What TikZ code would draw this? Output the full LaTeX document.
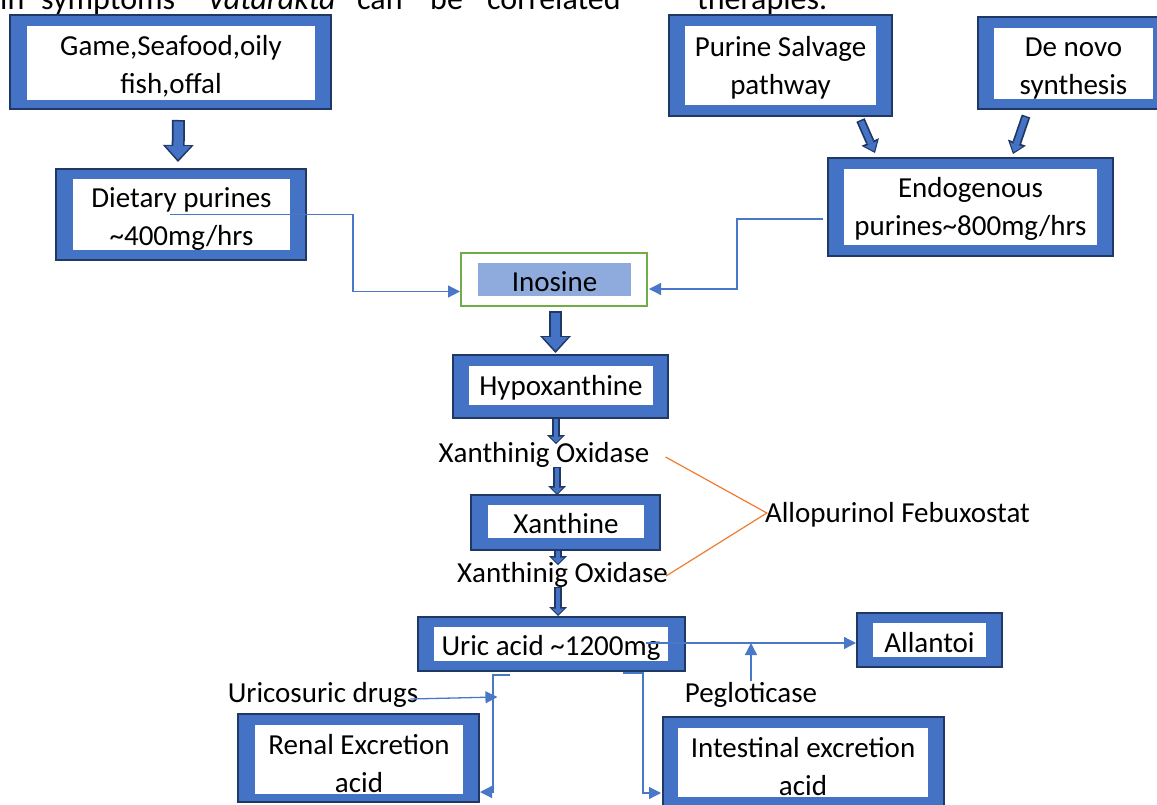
\documentclass[tikz,border=0pt]{standalone}
\usepackage{fontspec}
\setmainfont{Carlito}
\usetikzlibrary{calc,arrows.meta}
\definecolor{myblue}{HTML}{4472C4}
\definecolor{navy}{HTML}{203864}
\definecolor{connblue}{HTML}{4A78C8}
\definecolor{myorange}{HTML}{ED7D31}
\definecolor{mygreen}{HTML}{70AD47}
\definecolor{lightblue}{HTML}{8FAADC}
\newcommand\labfont{\fontsize{29}{38}\selectfont}
\newcommand\topfont{\fontsize{32}{38}\selectfont}
\begin{document}
\begin{tikzpicture}[x=1pt,y=-1pt,
  outerbox/.style={draw=navy, fill=myblue, line width=2pt, inner sep=0pt, rectangle},
  innerbox/.style={fill=white, inner sep=0pt},
  txt/.style={inner sep=0pt, align=center, font=\labfont},
  lbl/.style={inner sep=0pt, font=\labfont},
  toptxt/.style={inner sep=0pt, font=\topfont, anchor=base west},
  conn/.style={draw=connblue, line width=1.3pt, -{Triangle[width=12pt,length=12pt]}},
  bigA/.style={draw=navy, line width=13pt, -{Triangle[width=31pt,length=17pt,line width=0pt]}},
  bigB/.style={draw=myblue, line width=9.5pt, shorten >=2.5pt, shorten <=1.5pt, -{Triangle[width=25pt,length=13.5pt,line width=0pt]}},
  medA/.style={draw=navy, line width=9pt, -{Triangle[width=19pt,length=12pt,line width=0pt]}},
  medB/.style={draw=myblue, line width=5.5pt, shorten >=2pt, shorten <=1.5pt, -{Triangle[width=13pt,length=8pt,line width=0pt]}},
  smA/.style={draw=navy, line width=8pt, -{Triangle[width=18pt,length=9pt,line width=0pt]}},
  smB/.style={draw=myblue, line width=4.5pt, shorten >=1.5pt, shorten <=1.2pt, -{Triangle[width=12pt,length=6pt,line width=0pt]}},
  inhib/.style={draw=myorange, line width=1.2pt}
]
\useasboundingbox (0,0) rectangle (1157,805);
\clip (0,0) rectangle (1157,805);

% clipped running text at the top
\node[toptxt] (t1) at (0,10) {in};
\node[toptxt] (t2) at (41,10) {symptoms};
\node[toptxt] (t3) at (207,10) {\textit{Vatarakta}};
\node[toptxt] (t4) at (357,10) {can};
\node[toptxt] (t5) at (430,10) {be};
\node[toptxt] (t6) at (487,10) {correlated};
\node[toptxt] (t7) at (697,10) {therapies.};

% boxes
\node[outerbox, minimum width=321pt, minimum height=94pt] (game) at (170.5,62) {};
\node[innerbox, minimum width=288pt, minimum height=74pt] (gameW) at (171,63) {};
\node[txt] (gameT) at ([yshift=-3.5pt]gameW.center) {Game,Seafood,oily\\fish,offal};

\node[outerbox, minimum width=250pt, minimum height=91pt] (diet) at (181,214.5) {};
\node[innerbox, minimum width=217pt, minimum height=71pt] (dietW) at (181.5,214.5) {};
\node[txt] (dietT) at ([yshift=-4.5pt]dietW.center) {Dietary purines\\\textasciitilde400mg/hrs};

\node[outerbox, minimum width=223pt, minimum height=101pt] (salv) at (780.5,65.5) {};
\node[innerbox, minimum width=191pt, minimum height=79pt] (salvW) at (780.5,65.5) {};
\node[txt] (salvT) at ([yshift=-2pt]salvW.center) {Purine Salvage\\pathway};

\node[outerbox, minimum width=191pt, minimum height=92pt] (denovo) at (1073.5,63) {};
\node[innerbox, minimum width=159pt, minimum height=71pt] (denovoW) at (1073.5,63.5) {};
\node[txt] (denovoT) at ([yshift=-5pt]denovoW.center) {De novo\\synthesis};

\node[outerbox, minimum width=285pt, minimum height=98pt] (endo) at (970.5,207) {};
\node[innerbox, minimum width=253pt, minimum height=76pt] (endoW) at (970.5,207) {};
\node[txt] (endoT) at ([yshift=-1.5pt]endoW.center) {Endogenous\\purines\textasciitilde800mg/hrs};

\node[draw=mygreen, fill=white, line width=2pt, inner sep=0pt, minimum width=186pt, minimum height=53pt] (ino) at (554,279.5) {};
\node[fill=lightblue, inner sep=0pt, minimum width=153pt, minimum height=33pt] (inoW) at (554.5,279.5) {};
\node[txt] (inoT) at ([yshift=-2pt]inoW.center) {Inosine};

\node[outerbox, minimum width=215pt, minimum height=63pt] (hypo) at (560.5,386.5) {};
\node[innerbox, minimum width=184pt, minimum height=39pt] (hypoW) at (561,385.5) {};
\node[txt] (hypoT) at ([yshift=-2pt]hypoW.center) {Hypoxanthine};

\node[lbl] (xo1) at (544,455) {Xanthinig Oxidase};

\node[outerbox, minimum width=189pt, minimum height=55pt] (xan) at (565.5,522.5) {};
\node[innerbox, minimum width=156pt, minimum height=33pt] (xanW) at (566,521.5) {};
\node[txt] (xanT) at ([yshift=-2pt]xanW.center) {Xanthine};

\node[lbl] (xo2) at (562.5,575) {Xanthinig Oxidase};
\node[lbl] (allo) at (897.5,515) {Allopurinol Febuxostat};

\node[outerbox, minimum width=267pt, minimum height=54pt] (uric) at (551.5,644) {};
\node[innerbox, minimum width=234pt, minimum height=34pt] (uricW) at (551,644) {};
\node[txt] (uricT) at ([yshift=-3.5pt]uricW.center) {Uric acid \textasciitilde1200mg};

\node[outerbox, minimum width=145pt, minimum height=54pt] (allan) at (929.5,640) {};
\node[innerbox, minimum width=113pt, minimum height=34pt] (allanW) at (929.5,640) {};
\node[txt] (allanT) at ([yshift=-3pt]allanW.center) {Allantoi};

\node[lbl] (uri) at (323,695) {Uricosuric drugs};
\node[lbl] (peg) at (751,695) {Pegloticase};

\node[outerbox, minimum width=241pt, minimum height=88pt] (renal) at (358.5,758) {};
\node[innerbox, minimum width=208pt, minimum height=69pt] (renalW) at (359,759.5) {};
\node[txt] (renalT) at ([yshift=-4pt]renalW.center) {Renal Excretion\\acid};

\node[outerbox, minimum width=281pt, minimum height=91pt] (intest) at (803.5,762.5) {};
\node[innerbox, minimum width=250pt, minimum height=69pt] (intestW) at (803,762.5) {};
\node[txt] (intestT) at ([yshift=-4pt]intestW.center) {Intestinal excretion\\acid};

% block arrows
\draw[bigA] ($(game.south)+(8,10)$) -- ($(diet.north)+(-3,-6)$);
\draw[bigB] ($(game.south)+(8,10)$) -- ($(diet.north)+(-3,-6)$);

\draw[medA] ($(salv.south)+(80,3)$) -- ($(endo.north)+(-95.5,-4)$);
\draw[medB] ($(salv.south)+(80,3)$) -- ($(endo.north)+(-95.5,-4)$);
\draw[medA] ($(denovo.south)+(-47.5,6)$) -- ($(endo.north)+(42.5,-3)$);
\draw[medB] ($(denovo.south)+(-47.5,6)$) -- ($(endo.north)+(42.5,-3)$);

\draw[bigA] ($(ino.south)+(1.5,4)$) -- ($(ino.south |- hypo.north)+(1.5,-1)$);
\draw[bigB] ($(ino.south)+(1.5,4)$) -- ($(ino.south |- hypo.north)+(1.5,-1)$);

\draw[smA] ($(hypo.south)+(-4.5,-1)$) -- ($(xo1.north)+(12,2)$);
\draw[smB] ($(hypo.south)+(-4.5,-1)$) -- ($(xo1.north)+(12,2)$);
\draw[smA] ($(xo1.south)+(13,-1)$) -- ($(xan.north)+(-8.5,1)$);
\draw[smB] ($(xo1.south)+(13,-1)$) -- ($(xan.north)+(-8.5,1)$);
\draw[smA] ($(xan.south)+(-7.5,-1)$) -- ($(xo2.north)+(-4.5,3)$);
\draw[smB] ($(xan.south)+(-7.5,-1)$) -- ($(xo2.north)+(-4.5,3)$);
\draw[smA] ($(xo2.south)+(-4.5,-1)$) -- ($(uric.north)+(6.5,0)$);
\draw[smB] ($(xo2.south)+(-4.5,-1)$) -- ($(uric.north)+(6.5,0)$);

% thin connectors
\draw[conn] ([xshift=-11pt]diet.center) -| ([xshift=-107pt,yshift=-12pt]ino.west) -- ([yshift=-12pt]ino.west);
\draw[conn] ([xshift=-4pt,yshift=-12pt]endo.west) -| ([xshift=89pt,yshift=-9.5pt]ino.east) -- ([xshift=1pt,yshift=-9.5pt]ino.east);

\coordinate (ua) at ([xshift=94pt,yshift=1pt]uric.center);
\draw[conn] (ua) -- (ua -| allan.west);
\draw[conn] ($(peg.north)+(0,-1)$) -- (peg.north |- ua);

\draw[conn] ($(uric.south)+(-41.5,3)$) -| ($(renal.east)+(13,34)$) -- ($(renal.east)+(0,34)$);
\draw[conn] ($(uri.east)+(-8,4)$) -- ($(uri.east)+(79,2)$);
\draw[conn] ($(uric.south)+(71.5,1)$) -| ($(intest.west)+(-19,30.5)$) -- ($(intest.west)+(-1,30.5)$);

% inhibitor lines
\draw[inhib] ($(xo1.east)+(16,2)$) -- ($(allo.west)+(2,-2)$) -- ($(xo2.east)+(-2,1)$);
\end{tikzpicture}
\end{document}
